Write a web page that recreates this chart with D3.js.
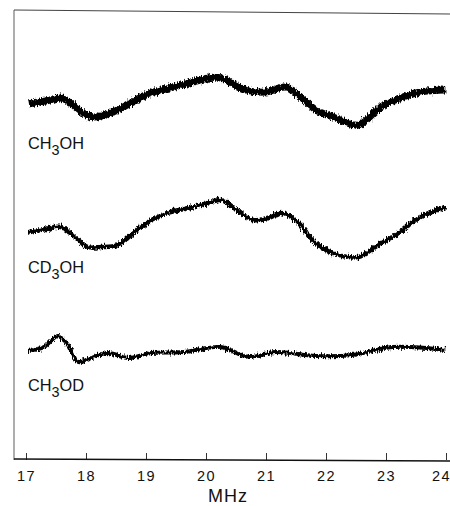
<!DOCTYPE html>
<html>
<head>
<meta charset="utf-8">
<script src="https://cdn.jsdelivr.net/npm/d3@7"></script>
<style>
  html, body { margin: 0; padding: 0; background: #fff; }
  svg { display: block; }
  text { font-family: "Liberation Sans", "DejaVu Sans", sans-serif; fill: #111; }
</style>
</head>
<body>
<svg id="chart" width="450" height="506"></svg>
<script>
// ---- data (frequency in MHz, signal in arbitrary units incl. vertical offset) ----
const ticks = [17, 18, 19, 20, 21, 22, 23, 24];
const xLabel = "MHz";

const ch3ohFreq = [17.05,17.33,17.58,17.75,17.92,18.13,18.41,18.75,19.08,19.46,19.91,20.16,20.33,20.66,20.99,21.33,21.58,21.83,22.16,22.54,22.91,23.24,23.57,23.99];
const ch3ohVal  = [356,359,362,357,348,343,347,357,367,373,380,383,380,370,368,373,363,350,342,335,353,362,368,370];

const cd3ohFreq = [17.05,17.33,17.58,17.78,18.03,18.25,18.53,18.91,19.36,19.80,20.24,20.33,20.78,21.04,21.29,21.54,21.83,22.11,22.54,22.82,23.21,23.54,23.99];
const cd3ohVal  = [228,231,233,225,213,213,215,233,247,253,260,258,240,242,247,237,217,207,203,213,227,242,253];

const ch3odFreq = [17.05,17.30,17.53,17.70,17.87,18.08,18.36,18.70,19.08,19.63,20.24,20.71,21.16,21.83,22.44,23.11,23.99];
const ch3odVal  = [109,113,124,115,98,102,107,102,107,108,113,103,108,104,105,113,110];

const seriesNames = [["CH", "3", "OH"], ["CD", "3", "OH"], ["CH", "3", "OD"]];

// ---- drawing ----
const svg = d3.select("#chart");
const x = d3.scaleLinear().domain([17, 24]).range([26, 446]);
const y = d3.scaleLinear().domain([0, 450]).range([460, 10]);

const defs = svg.append("defs");
const f = defs.append("filter").attr("id", "rough")
  .attr("x", "-5%").attr("y", "-50%").attr("width", "110%").attr("height", "200%");
f.append("feTurbulence").attr("type", "fractalNoise").attr("baseFrequency", "1.3 0.2")
  .attr("numOctaves", 2).attr("seed", 3).attr("result", "n");
f.append("feDisplacementMap").attr("in", "SourceGraphic").attr("in2", "n")
  .attr("scale", 6).attr("xChannelSelector", "R").attr("yChannelSelector", "G");

// frame
svg.append("line").attr("x1", 14).attr("x2", 14).attr("y1", 10).attr("y2", 460)
  .attr("stroke", "#777").attr("stroke-width", 1.2);
svg.append("line").attr("x1", 14).attr("x2", 450).attr("y1", 10).attr("y2", 14)
  .attr("stroke", "#444").attr("stroke-width", 1.2);

// bottom axis
const axis = d3.axisBottom(x).tickValues(ticks).tickSize(-7).tickSizeOuter(0).tickPadding(11)
  .tickFormat(d3.format("d"));
const gx = svg.append("g").attr("transform", "translate(0,460)").call(axis);
gx.select(".domain").remove();
gx.selectAll(".tick line").attr("stroke", "#333").attr("stroke-width", 1);
gx.selectAll(".tick text").attr("font-size", 14.5).attr("fill", "#111").attr("letter-spacing", 1.5)
  .attr("dx", d => d === 24 ? -5 : 0);
gx.append("line").attr("x1", 14).attr("x2", 450).attr("y1", -1).attr("y2", 1)
  .attr("stroke", "#111").attr("stroke-width", 1.3);

svg.append("text").attr("x", 228).attr("y", 502).attr("text-anchor", "middle")
  .attr("font-size", 18).attr("letter-spacing", 1).text(xLabel);

// traces
const line = d3.line().x(d => x(d[0])).y(d => y(d[1])).curve(d3.curveCatmullRom.alpha(0.5));
const traces = [
  {f: ch3ohFreq, v: ch3ohVal, w: 7},
  {f: cd3ohFreq, v: cd3ohVal, w: 4.5},
  {f: ch3odFreq, v: ch3odVal, w: 4}
];
traces.forEach(t => {
  const pts = t.f.map((d, i) => [d, t.v[i]]);
  svg.append("path").attr("d", line(pts)).attr("fill", "none")
    .attr("stroke", "#000").attr("stroke-width", t.w).attr("stroke-linejoin", "round")
    .attr("filter", "url(#rough)");
});

// series labels
const labelY = [149, 273, 391];
seriesNames.forEach((n, i) => {
  const t = svg.append("text").attr("x", 28).attr("y", labelY[i]).attr("font-size", 17)
    .attr("textLength", 56).attr("lengthAdjust", "spacingAndGlyphs");
  t.append("tspan").text(n[0]);
  t.append("tspan").attr("dy", 6).attr("font-size", 15).text(n[1]);
  t.append("tspan").attr("dy", -6).text(n[2]);
});
</script>
</body>
</html>
